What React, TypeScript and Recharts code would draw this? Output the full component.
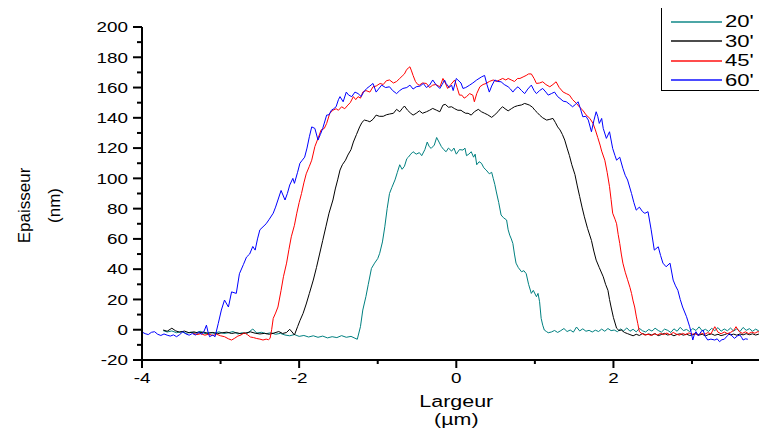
import { Label, Line, LineChart, XAxis, YAxis } from 'recharts';

// profile thickness (nm) vs width (µm), one trace per deposition time
const seriesNames = ["20'", "30'", "45'", "60'"];
const seriesColors = ['#008080', '#000000', '#ff0000', '#0000ff'];

const xTicks = [-4, -3, -2, -1, 0, 1, 2, 3, 4];
const yTicks = [-20, -10, 0, 10, 20, 30, 40, 50, 60, 70, 80, 90, 100, 110, 120, 130, 140, 150, 160, 170, 180, 190, 200];

const profile20: [number, number][] = [
  [-3.73, -0.6], [-3.68, -1.5], [-3.62, -0.8], [-3.56, -2.0], [-3.5, -1.2], [-3.44, -2.4], [-3.38, -1.6], [-3.32, -2.2],
  [-3.26, -1.0], [-3.2, -2.6], [-3.14, -1.8], [-3.08, -2.3], [-3.02, -1.4], [-2.96, -2.5], [-2.9, -2.0], [-2.84, -1.2],
  [-2.78, -2.8], [-2.72, -1.9], [-2.66, -2.4], [-2.59, 0.5], [-2.54, -2.2], [-2.48, -1.7], [-2.42, -2.6], [-2.36, -2.0],
  [-2.3, -3.0], [-2.24, -2.4], [-2.18, -3.5], [-2.12, -4.0], [-2.06, -3.2], [-2.0, -4.4], [-1.94, -3.8], [-1.88, -4.8],
  [-1.82, -4.0], [-1.76, -5.0], [-1.7, -4.2], [-1.64, -5.4], [-1.58, -4.6], [-1.52, -5.2], [-1.46, -3.9], [-1.4, -5.0],
  [-1.34, -4.4], [-1.29, -5.6], [-1.26, -6.3], [-1.22, 2], [-1.19, 13], [-1.15, 22], [-1.12, 30], [-1.08, 40.5],
  [-1.04, 44], [-1.0, 47], [-0.975, 50.5], [-0.94, 58], [-0.91, 68], [-0.88, 80], [-0.85, 90], [-0.82, 94],
  [-0.78, 99], [-0.75, 104], [-0.72, 109], [-0.69, 106], [-0.66, 108], [-0.63, 113], [-0.61, 114], [-0.58, 116],
  [-0.55, 117.6], [-0.51, 116], [-0.47, 117], [-0.44, 115], [-0.4, 119], [-0.37, 124], [-0.345, 121], [-0.32, 119.8],
  [-0.28, 122], [-0.25, 127], [-0.22, 124], [-0.19, 121], [-0.16, 119], [-0.13, 117.6], [-0.1, 120], [-0.06, 118],
  [-0.03, 120], [0, 116], [0.04, 119], [0.085, 118.7], [0.11, 120], [0.13, 115], [0.16, 116], [0.19, 117.6],
  [0.22, 114], [0.24, 116], [0.26, 109], [0.29, 111], [0.32, 110], [0.35, 107], [0.38, 105.5], [0.42, 103],
  [0.45, 104], [0.47, 100], [0.49, 96], [0.51, 91], [0.54, 84], [0.57, 75.8], [0.6, 74], [0.64, 72.5],
  [0.66, 66], [0.68, 62.5], [0.7, 60], [0.72, 57], [0.74, 50], [0.76, 44], [0.79, 41], [0.83, 38.3],
  [0.86, 39], [0.89, 37], [0.92, 30], [0.955, 24], [0.98, 26], [1.02, 21.8], [1.04, 24], [1.06, 18.5],
  [1.08, 7.5], [1.1, 3], [1.12, -0.2], [1.15, -1.3], [1.17, -2], [1.21, -1.5], [1.25, -0.5], [1.29, -1.8],
  [1.33, -0.6], [1.37, 0.8], [1.41, -1.2], [1.45, -0.2], [1.49, -1.6], [1.53, 1.8], [1.57, -0.8], [1.61, 0.6],
  [1.65, -1.0], [1.69, -0.4], [1.73, -1.5], [1.77, -0.3], [1.81, -1.2], [1.85, 0.4], [1.89, -1.0], [1.93, 0.8],
  [1.97, -0.6], [2.01, -0.2], [2.05, -1.3], [2.09, 0.5], [2.13, -0.8], [2.17, 1.2], [2.21, -1.0], [2.25, 0.3],
  [2.29, -1.4], [2.33, 0.9], [2.37, -0.7], [2.41, -1.5], [2.45, 0.2], [2.49, -0.9], [2.53, 1.0], [2.57, -0.5],
  [2.61, -1.6], [2.65, 0.4], [2.69, -0.4], [2.73, -1.8], [2.77, 0.6], [2.81, -1.0], [2.85, 1.6], [2.89, -0.6],
  [2.93, 0.2], [2.97, -1.2], [3.01, 0.8], [3.05, -0.5], [3.09, 1.9], [3.13, -0.8], [3.17, 0.3], [3.21, -1.1],
  [3.25, 0.9], [3.29, -0.6], [3.33, 1.4], [3.37, -1.0], [3.41, 0.5], [3.45, -0.7], [3.49, 1.1], [3.53, -0.9],
  [3.57, 0.6], [3.61, -1.2], [3.65, 1.5], [3.69, -0.4], [3.73, 0.7], [3.77, -1.0], [3.81, 0.4], [3.85, -0.8],
  [3.89, 1.2], [3.93, -0.3], [3.96, 0.2],
];

const profile30: [number, number][] = [
  [-3.73, -0.2], [-3.68, -1.0], [-3.62, 1.0], [-3.57, -0.8], [-3.52, -1.6], [-3.46, -0.9], [-3.4, -2.0], [-3.34, -1.4],
  [-3.28, -2.2], [-3.22, -1.5], [-3.16, -2.4], [-3.1, -1.8], [-3.04, -2.6], [-2.98, -2.0], [-2.92, -1.6], [-2.86, -2.5],
  [-2.8, -1.9], [-2.74, -2.7], [-2.68, -2.2], [-2.62, -1.4], [-2.56, -2.3], [-2.5, -2.8], [-2.44, -2.4], [-2.38, -3.0],
  [-2.32, -2.2], [-2.26, -1.2], [-2.21, -2.5], [-2.16, -1.8], [-2.12, 0.3], [-2.09, -1.5], [-2.06, -3.5], [-2.02, 2],
  [-1.99, 6], [-1.95, 10.8], [-1.91, 17], [-1.87, 24], [-1.82, 32.8], [-1.78, 41], [-1.74, 50], [-1.7, 59],
  [-1.66, 68], [-1.62, 77], [-1.57, 85.7], [-1.54, 93], [-1.51, 99], [-1.48, 105.5], [-1.45, 109], [-1.41, 112],
  [-1.38, 115.4], [-1.34, 119], [-1.31, 124], [-1.27, 129], [-1.23, 134], [-1.2, 137], [-1.17, 138.5], [-1.13, 138],
  [-1.1, 137.4], [-1.06, 139], [-1.02, 141.8], [-0.98, 141], [-0.93, 141], [-0.89, 142], [-0.85, 142.5], [-0.8, 143],
  [-0.76, 145.6], [-0.72, 144], [-0.69, 146], [-0.66, 147.8], [-0.62, 145], [-0.58, 143], [-0.55, 141.8], [-0.51, 143],
  [-0.47, 144.6], [-0.43, 143], [-0.38, 144], [-0.34, 145], [-0.3, 146.2], [-0.25, 145], [-0.21, 144], [-0.17, 148.4],
  [-0.14, 148.9], [-0.1, 147], [-0.06, 147.3], [-0.02, 146], [0.02, 145], [0.06, 145], [0.085, 144], [0.12, 143],
  [0.15, 143], [0.19, 141.8], [0.23, 144], [0.28, 145.6], [0.32, 144], [0.36, 143], [0.4, 142], [0.45, 140.3],
  [0.49, 142], [0.53, 144], [0.56, 146], [0.59, 147.3], [0.62, 146], [0.66, 144.6], [0.7, 146], [0.74, 147.3],
  [0.78, 148], [0.83, 148.5], [0.87, 149.5], [0.9, 149], [0.93, 148.4], [0.97, 147], [1.0, 145], [1.03, 143.5],
  [1.06, 141.8], [1.1, 140], [1.15, 138.5], [1.19, 139], [1.23, 139.6], [1.26, 137], [1.29, 134], [1.32, 132],
  [1.35, 129], [1.38, 125.3], [1.41, 120], [1.44, 115], [1.47, 109], [1.51, 102.5], [1.54, 95], [1.57, 88],
  [1.6, 81], [1.63, 74.6], [1.67, 67], [1.72, 59], [1.75, 52], [1.78, 46], [1.82, 41], [1.87, 35],
  [1.9, 30], [1.93, 26], [1.95, 20], [1.97, 15], [2.0, 8], [2.04, 1], [2.07, -0.5], [2.1, -0.2],
  [2.14, -1.8], [2.18, -2.6], [2.21, -3.2], [2.25, -4], [2.29, -3.0], [2.33, -3.8], [2.37, -2.5], [2.41, -3.4],
  [2.45, -2.8], [2.49, -3.6], [2.53, -2.6], [2.57, -3.9], [2.61, -3.2], [2.65, -2.4], [2.69, -3.5], [2.73, -3.0],
  [2.77, -4.0], [2.81, -3.1], [2.85, -2.7], [2.89, -3.6], [2.93, -2.9], [2.97, -3.8], [3.01, -3.3], [3.05, -2.6],
  [3.09, -3.5], [3.13, -3.0], [3.17, -4.1], [3.21, -3.2], [3.25, -2.8], [3.29, -3.7], [3.33, -3.0], [3.37, -3.9],
  [3.41, -3.3], [3.45, -2.5], [3.49, -3.4], [3.53, -2.9], [3.57, -3.6], [3.61, -2.8], [3.65, -3.4], [3.69, -2.6],
  [3.73, -3.3], [3.77, -2.7], [3.81, -3.5], [3.85, -2.9], [3.89, -2.4], [3.93, -3.1], [3.96, -2.6],
];

const profile45: [number, number][] = [
  [-3.35, -2.4], [-3.3, -3.2], [-3.25, -2.6], [-3.2, -3.6], [-3.15, -2.9], [-3.1, -3.8], [-3.05, -3.0], [-3.0, -4.0],
  [-2.95, -4.6], [-2.9, -6.0], [-2.86, -6.8], [-2.82, -5.6], [-2.78, -4.2], [-2.74, -3.5], [-2.7, -2.0], [-2.66, -3.2],
  [-2.62, -4.8], [-2.58, -5.2], [-2.54, -5.8], [-2.5, -6.2], [-2.46, -6.8], [-2.42, -6.2], [-2.39, -6.6], [-2.37, -5.7],
  [-2.35, 0], [-2.33, 7.5], [-2.3, 11], [-2.27, 15], [-2.23, 26], [-2.2, 35], [-2.16, 44], [-2.13, 53],
  [-2.1, 61.4], [-2.06, 69], [-2.03, 77], [-2.0, 84], [-1.97, 90], [-1.94, 97], [-1.91, 103], [-1.87, 108],
  [-1.84, 112], [-1.8, 121], [-1.76, 126.4], [-1.72, 132], [-1.68, 133], [-1.65, 136.3], [-1.61, 143], [-1.57, 145],
  [-1.53, 146], [-1.5, 145], [-1.46, 147.3], [-1.42, 146], [-1.38, 148.4], [-1.35, 150], [-1.31, 154], [-1.28, 152],
  [-1.25, 154], [-1.22, 153], [-1.19, 157], [-1.15, 158], [-1.1, 157], [-1.06, 160.5], [-1.02, 161], [-0.97, 162.7],
  [-0.93, 162], [-0.89, 164.5], [-0.85, 165], [-0.8, 163], [-0.76, 164], [-0.72, 166], [-0.68, 168], [-0.66, 169],
  [-0.635, 171.5], [-0.61, 173], [-0.59, 173.7], [-0.57, 171], [-0.55, 168], [-0.52, 164], [-0.49, 162], [-0.47, 161.6],
  [-0.43, 163], [-0.38, 162.7], [-0.34, 160], [-0.3, 161.6], [-0.26, 162], [-0.21, 160.5], [-0.19, 163], [-0.17, 166],
  [-0.14, 163], [-0.11, 159.4], [-0.07, 162], [-0.02, 165], [0.01, 160], [0.04, 155], [0.07, 155], [0.1, 153],
  [0.13, 154], [0.17, 156], [0.21, 155], [0.23, 150.6], [0.26, 156], [0.3, 160.5], [0.34, 162], [0.38, 162.7],
  [0.42, 164], [0.47, 165], [0.51, 164], [0.55, 165], [0.59, 166], [0.63, 165], [0.66, 166], [0.7, 165],
  [0.74, 164], [0.78, 166], [0.81, 166], [0.85, 167], [0.89, 168], [0.92, 169], [0.955, 169], [0.99, 166],
  [1.02, 162.7], [1.06, 163], [1.1, 163.8], [1.14, 162], [1.19, 160.5], [1.23, 162], [1.27, 163.8], [1.31, 160],
  [1.36, 157], [1.4, 156], [1.44, 155], [1.48, 152], [1.53, 149.5], [1.57, 147], [1.61, 145], [1.65, 142],
  [1.7, 139.6], [1.74, 136.3], [1.77, 132], [1.8, 127], [1.83, 122], [1.85, 118], [1.89, 112], [1.92, 104],
  [1.95, 94.5], [1.97, 86], [1.99, 77], [2.02, 73], [2.04, 70], [2.06, 63], [2.08, 57], [2.1, 50],
  [2.12, 44], [2.15, 38], [2.18, 33], [2.21, 28], [2.23, 24], [2.25, 19], [2.27, 15], [2.29, 9],
  [2.31, 4], [2.33, -1.3], [2.36, -2.5], [2.4, -3.5], [2.44, -3.0], [2.48, -3.8], [2.52, -2.6], [2.56, -3.5],
  [2.6, -2.4], [2.64, -3.2], [2.68, -2.2], [2.72, -3.4], [2.76, -1.8], [2.8, -2.9], [2.84, -3.6], [2.88, -2.4],
  [2.92, -3.3], [2.96, -2.1], [3.0, -3.0], [3.04, -2.6], [3.08, -3.7], [3.12, -2.3], [3.16, -3.1], [3.2, -1.9],
  [3.24, -2.8], [3.29, 2.0], [3.33, -1.6], [3.37, -2.7], [3.41, -1.5], [3.45, -2.6], [3.49, -1.8], [3.53, -0.5],
  [3.56, 2.0], [3.6, -1.2], [3.64, -2.4], [3.68, -1.4], [3.72, -2.6], [3.76, -1.6], [3.8, -2.3], [3.84, -1.2],
  [3.88, -2.5], [3.92, -1.7], [3.96, -2.4],
];

const profile60: [number, number][] = [
  [-4.0, -1.5], [-3.96, -2.6], [-3.92, -3.2], [-3.88, -1.7], [-3.84, -1.3], [-3.8, -3.0], [-3.76, -3.8], [-3.72, -2.8],
  [-3.68, -3.6], [-3.64, -4.2], [-3.6, -3.4], [-3.56, -4.6], [-3.52, -3.2], [-3.48, -1.3], [-3.44, -2.8], [-3.4, -3.6],
  [-3.36, -2.5], [-3.32, -3.5], [-3.28, -1.6], [-3.24, -3.0], [-3.21, -1.0], [-3.18, 3.0], [-3.16, -1.5], [-3.14, -4.6],
  [-3.1, -3.5], [-3.07, -4.6], [-3.03, 4], [-2.99, 13], [-2.95, 19.6], [-2.9, 15], [-2.86, 25], [-2.8, 24],
  [-2.76, 37], [-2.71, 43], [-2.67, 48], [-2.63, 50], [-2.59, 55], [-2.56, 52.6], [-2.53, 60], [-2.5, 66],
  [-2.46, 68], [-2.42, 70], [-2.38, 73], [-2.33, 77], [-2.3, 81], [-2.27, 85.7], [-2.23, 92], [-2.18, 85.7],
  [-2.15, 90], [-2.12, 95.6], [-2.08, 100], [-2.06, 96.7], [-2.02, 104], [-1.99, 110], [-1.96, 112], [-1.93, 114],
  [-1.9, 120], [-1.87, 127.5], [-1.84, 134], [-1.8, 133], [-1.76, 125.3], [-1.73, 129], [-1.7, 133], [-1.65, 141.8],
  [-1.62, 142], [-1.59, 145], [-1.56, 146], [-1.53, 147.3], [-1.5, 152], [-1.48, 154], [-1.44, 150.6], [-1.4, 157],
  [-1.37, 155], [-1.33, 154], [-1.29, 157], [-1.25, 156], [-1.21, 154], [-1.18, 157], [-1.14, 159.4], [-1.1, 161],
  [-1.06, 162.7], [-1.02, 157], [-0.99, 159], [-0.95, 161.6], [-0.9, 160], [-0.85, 160.5], [-0.81, 158], [-0.76, 156],
  [-0.72, 158], [-0.68, 159.4], [-0.63, 160], [-0.59, 161.6], [-0.55, 159], [-0.51, 160.5], [-0.46, 161], [-0.42, 162.7],
  [-0.38, 160], [-0.34, 161.6], [-0.3, 165], [-0.26, 162], [-0.21, 159.4], [-0.18, 162], [-0.15, 165], [-0.13, 162.7],
  [-0.09, 160], [-0.06, 161.6], [-0.04, 158], [0, 166], [0.02, 165], [0.06, 163], [0.085, 159.4], [0.12, 160],
  [0.17, 161.6], [0.21, 163], [0.26, 165], [0.32, 167], [0.36, 168], [0.39, 162], [0.42, 157], [0.45, 161],
  [0.49, 165], [0.53, 164], [0.57, 163.8], [0.61, 162], [0.66, 160.5], [0.69, 159], [0.72, 157], [0.75, 159],
  [0.785, 160.5], [0.83, 158], [0.87, 156], [0.91, 159], [0.955, 161.6], [0.99, 158], [1.02, 156], [1.06, 158],
  [1.1, 159.4], [1.14, 157], [1.17, 155], [1.21, 156], [1.25, 157], [1.29, 154], [1.32, 152.8], [1.36, 151],
  [1.4, 150.6], [1.44, 149], [1.48, 147.3], [1.52, 149], [1.55, 150.6], [1.58, 146], [1.61, 140.7], [1.65, 141],
  [1.68, 138.5], [1.72, 130.8], [1.75, 138], [1.78, 144], [1.8, 141], [1.82, 136.3], [1.85, 139.6], [1.87, 133],
  [1.91, 126.4], [1.95, 130.8], [1.99, 119.8], [2.02, 115], [2.04, 112], [2.08, 114], [2.12, 106.6], [2.15, 102],
  [2.18, 98.9], [2.23, 90], [2.26, 84], [2.29, 79], [2.33, 81], [2.37, 78], [2.4, 76.9], [2.44, 78],
  [2.48, 66], [2.52, 52.6], [2.57, 54.8], [2.6, 49], [2.63, 44], [2.67, 41.6], [2.72, 44], [2.76, 32.8],
  [2.79, 29], [2.82, 26], [2.85, 20], [2.88, 15], [2.93, 8.6], [2.97, 2], [2.99, -2], [3.01, -6.8],
  [3.03, -3], [3.05, -1.3], [3.08, -4], [3.1, -2.4], [3.12, -1.0], [3.14, -0.2], [3.17, -4.5], [3.2, -6.8],
  [3.24, -6.2], [3.29, -6.8], [3.32, -6.0], [3.35, -7.9], [3.38, -6.6], [3.41, -6.3], [3.45, -4.0], [3.48, -2.4],
  [3.51, -4.2], [3.54, -5.7], [3.58, -4.0], [3.61, -3.5], [3.63, -5.0], [3.65, -6.8], [3.68, -6.0], [3.71, -6.3],
];

const profiles = [profile20, profile30, profile45, profile60].map((pts) => pts.map(([x, y]) => ({ x, y })));

const FONT = '"Liberation Sans", Arial, sans-serif';
// the source picture is stretched sideways, so text is widened to match
const STRETCH = 1.3;

const YTick = (props: any) => {
  const { x, y, payload } = props;
  const major = payload.value % 20 === 0;
  return (
    <g>
      <line x1={x} x2={x - (major ? 9 : 5)} y1={y} y2={y} stroke="#000" strokeWidth={2} />
      {major && (
        <text
          transform={`translate(${x - 14},${y}) scale(${STRETCH},1)`}
          textAnchor="end"
          dy="0.36em"
          fontSize={14.5}
          fontFamily={FONT}
          fill="#000"
        >
          {payload.value}
        </text>
      )}
    </g>
  );
};

const XTick = (props: any) => {
  const { x, y, payload } = props;
  const major = payload.value % 2 === 0;
  return (
    <g>
      <line x1={x} x2={x} y1={y} y2={y + (major ? 8 : 4)} stroke="#000" strokeWidth={2} />
      {major && (
        <text
          transform={`translate(${x},${y + 23}) scale(${STRETCH},1)`}
          textAnchor="middle"
          fontSize={14.5}
          fontFamily={FONT}
          fill="#000"
        >
          {payload.value}
        </text>
      )}
    </g>
  );
};

const XTitle = (props: any) => {
  const { viewBox } = props;
  const cx = viewBox.x + viewBox.width / 2;
  return (
    <g fontFamily={FONT} fontSize={16.5} fill="#000">
      <text transform={`translate(${cx},${viewBox.y + 47}) scale(${STRETCH},1)`} textAnchor="middle">
        Largeur
      </text>
      <text transform={`translate(${cx},${viewBox.y + 65}) scale(${STRETCH},1)`} textAnchor="middle">
        (µm)
      </text>
    </g>
  );
};

const YTitle = (props: any) => {
  const { viewBox } = props;
  const cy = viewBox.y + viewBox.height / 2 + 12;
  return (
    <g fontFamily={FONT} fontSize={17} fill="#000">
      <text transform={`translate(30,${cy}) rotate(-90)`} textAnchor="middle">
        Epaisseur
      </text>
      <text transform={`translate(60,${cy}) rotate(-90)`} textAnchor="middle">
        (nm)
      </text>
    </g>
  );
};

function LegendBox() {
  return (
    <div
      style={{
        position: 'absolute',
        left: 661,
        top: 6,
        width: 103,
        height: 85,
        boxSizing: 'border-box',
        border: '1px solid #000',
        background: '#fff',
        paddingTop: 5,
        fontFamily: FONT,
      }}
    >
      {seriesNames.map((name, i) => (
        <div key={name} style={{ display: 'flex', alignItems: 'center', height: 19.5 }}>
          <div style={{ marginLeft: 9, width: 51, height: 2, background: seriesColors[i], opacity: 0.7 }} />
          <span
            style={{
              display: 'inline-block',
              marginLeft: 3,
              fontSize: 17,
              lineHeight: '19px',
              transform: `scaleX(${STRETCH})`,
              transformOrigin: 'left center',
            }}
          >
            {name}
          </span>
        </div>
      ))}
    </div>
  );
}

export default function App() {
  return (
    <div style={{ margin: -8, width: 767, height: 436, overflow: 'hidden', position: 'relative', background: '#fff' }}>
      <LineChart width={800} height={436} margin={{ top: 27, right: 29.4, bottom: 0, left: 0 }}>
        <XAxis
          dataKey="x"
          type="number"
          domain={[-4, 4]}
          ticks={xTicks}
          interval={0}
          allowDataOverflow
          height={76}
          tickSize={0}
          tickMargin={0}
          tick={<XTick />}
          axisLine={{ stroke: '#000', strokeWidth: 2 }}
          label={<Label content={<XTitle />} />}
        />
        <YAxis
          type="number"
          domain={[-20, 200]}
          ticks={yTicks}
          interval={0}
          allowDataOverflow
          width={142}
          tickSize={0}
          tickMargin={0}
          tick={<YTick />}
          axisLine={{ stroke: '#000', strokeWidth: 2 }}
          label={<Label content={<YTitle />} />}
        />
        {profiles.map((data, i) => (
          <Line
            key={seriesNames[i]}
            data={data}
            dataKey="y"
            name={seriesNames[i]}
            type="linear"
            stroke={seriesColors[i]}
            strokeWidth={1}
            dot={false}
            activeDot={false}
            isAnimationActive={false}
          />
        ))}
      </LineChart>
      <LegendBox />
    </div>
  );
}
